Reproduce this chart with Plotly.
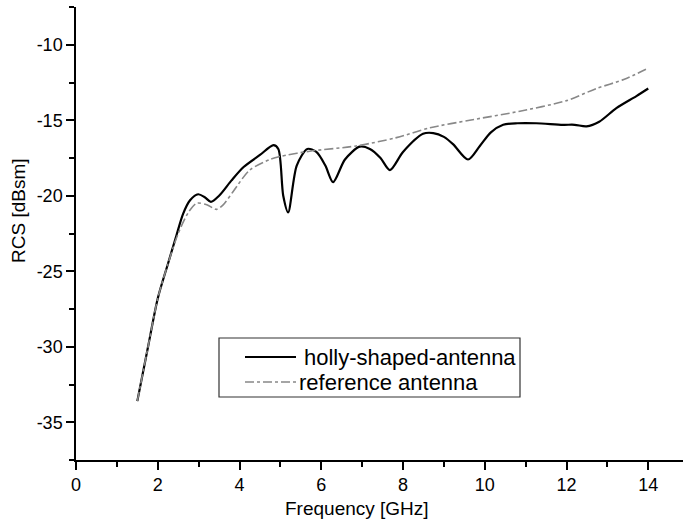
import plotly.graph_objects as go

# Measured monostatic RCS versus frequency
freq_holly = [1.5, 1.77, 2.0, 2.25, 2.46, 2.62, 2.79, 2.99, 3.15, 3.3, 3.5, 3.8,
              4.1, 4.5, 4.83, 4.95, 5.07, 5.19, 5.40, 5.66, 5.88, 6.1, 6.29,
              6.58, 6.94, 7.19, 7.45, 7.68, 8.0, 8.49, 8.74, 9.0, 9.23, 9.59, 9.88,
              10.15, 10.45, 10.8, 11.26, 11.91, 12.2, 12.49, 12.8, 13.22, 13.71, 14.0]
rcs_holly = [-33.6, -29.9, -26.8, -24.5, -22.6, -21.2, -20.3, -19.9, -20.1, -20.4, -20.0, -19.0,
             -18.1, -17.3, -16.65, -16.9, -20.0, -21.1, -18.0, -16.9, -17.1, -18.0, -19.1,
             -17.6, -16.75, -16.9, -17.5, -18.3, -17.1, -15.9, -15.85, -16.1, -16.6, -17.6, -16.7,
             -15.8, -15.3, -15.2, -15.2, -15.3, -15.3, -15.4, -15.1, -14.2, -13.4, -12.9]

freq_ref = [1.5, 1.77, 2.0, 2.25, 2.5, 2.75, 2.95, 3.2, 3.44, 3.6, 3.85, 4.25,
            4.74, 4.99, 5.72, 6.86, 7.84, 8.66, 9.63, 10.86, 12.0, 12.73, 13.4, 14.0]
rcs_ref = [-33.6, -29.9, -26.8, -24.5, -22.5, -21.1, -20.5, -20.6, -20.9, -20.6, -19.7, -18.3,
           -17.6, -17.4, -17.05, -16.7, -16.15, -15.5, -15.0, -14.4, -13.7, -12.9, -12.3, -11.55]

series_names = ["holly-shaped-antenna", "reference antenna"]

x_ticks = [0, 2, 4, 6, 8, 10, 12, 14]
y_ticks = [-35, -30, -25, -20, -15, -10]
y_tick_text = ["-35", "-30", "-25", "-20", "-15", "-10"]

FONT = "Liberation Sans, Arial, sans-serif"

# plot-area geometry in pixels (used to place the titles and the legend box)
W, H = 683, 521
ML, MR, MT, MB = 76, 0, 7, 61
PW, PH = W - ML - MR, H - MT - MB


def px(x):
    return (x - ML) / PW


def py(y):
    return (H - MB - y) / PH


line_styles = [
    dict(color="black", width=2.2),
    dict(color="#888888", width=1.6, dash="dashdot"),
]

fig = go.Figure()
fig.add_trace(go.Scatter(
    x=freq_holly, y=rcs_holly, mode="lines", name=series_names[0],
    line=dict(shape="spline", smoothing=0.8, **line_styles[0])))
fig.add_trace(go.Scatter(
    x=freq_ref, y=rcs_ref, mode="lines", name=series_names[1],
    line=dict(shape="spline", smoothing=0.8, **line_styles[1])))

axis_common = dict(
    showline=True, linecolor="black", linewidth=1.5, showgrid=False, zeroline=False,
    ticks="outside", tickcolor="black", tickwidth=1.5, ticklen=8,
    tickfont=dict(family=FONT, size=18, color="black"),
)

fig.update_layout(
    width=W, height=H,
    margin=dict(l=ML, r=MR, t=MT, b=MB),
    paper_bgcolor="white", plot_bgcolor="white",
    font=dict(family=FONT, color="black"),
    xaxis=dict(range=[0, 14.85], tickvals=x_ticks,
               minor=dict(dtick=1, tick0=0, ticks="outside", ticklen=5,
                          tickcolor="black", tickwidth=1.5),
               **axis_common),
    yaxis=dict(range=[-37.5, -7.5], tickvals=y_ticks, ticktext=y_tick_text,
               minor=dict(dtick=2.5, tick0=-35, ticks="outside", ticklen=5,
                          tickcolor="black", tickwidth=1.5),
               **axis_common),
    showlegend=False,
)

# axis titles
fig.add_annotation(text="Frequency [GHz]", xref="paper", yref="paper",
                   x=px(357), y=py(508), xanchor="center", yanchor="middle",
                   showarrow=False, font=dict(family=FONT, size=19, color="black"))
fig.add_annotation(text="RCS [dBsm]", xref="paper", yref="paper",
                   x=px(19), y=py(211), xanchor="center", yanchor="middle",
                   textangle=-90, showarrow=False, font=dict(family=FONT, size=19, color="black"))

# legend box with line samples and labels
fig.add_shape(type="rect", xref="paper", yref="paper",
              x0=px(219), x1=px(520), y0=py(397), y1=py(338),
              line=dict(color="#333333", width=1.2), fillcolor="white", layer="above")
row_y = [357, 382]
text_x = [302, 297]
for name, style, ry, tx in zip(series_names, line_styles, row_y, text_x):
    fig.add_shape(type="line", xref="paper", yref="paper",
                  x0=px(245), x1=px(296), y0=py(ry), y1=py(ry),
                  line=style, layer="above")
    fig.add_annotation(text=name, xref="paper", yref="paper",
                       x=px(tx), y=py(ry), xanchor="left", yanchor="middle",
                       showarrow=False, font=dict(family=FONT, size=22, color="black"))

fig.write_html("out.html")
